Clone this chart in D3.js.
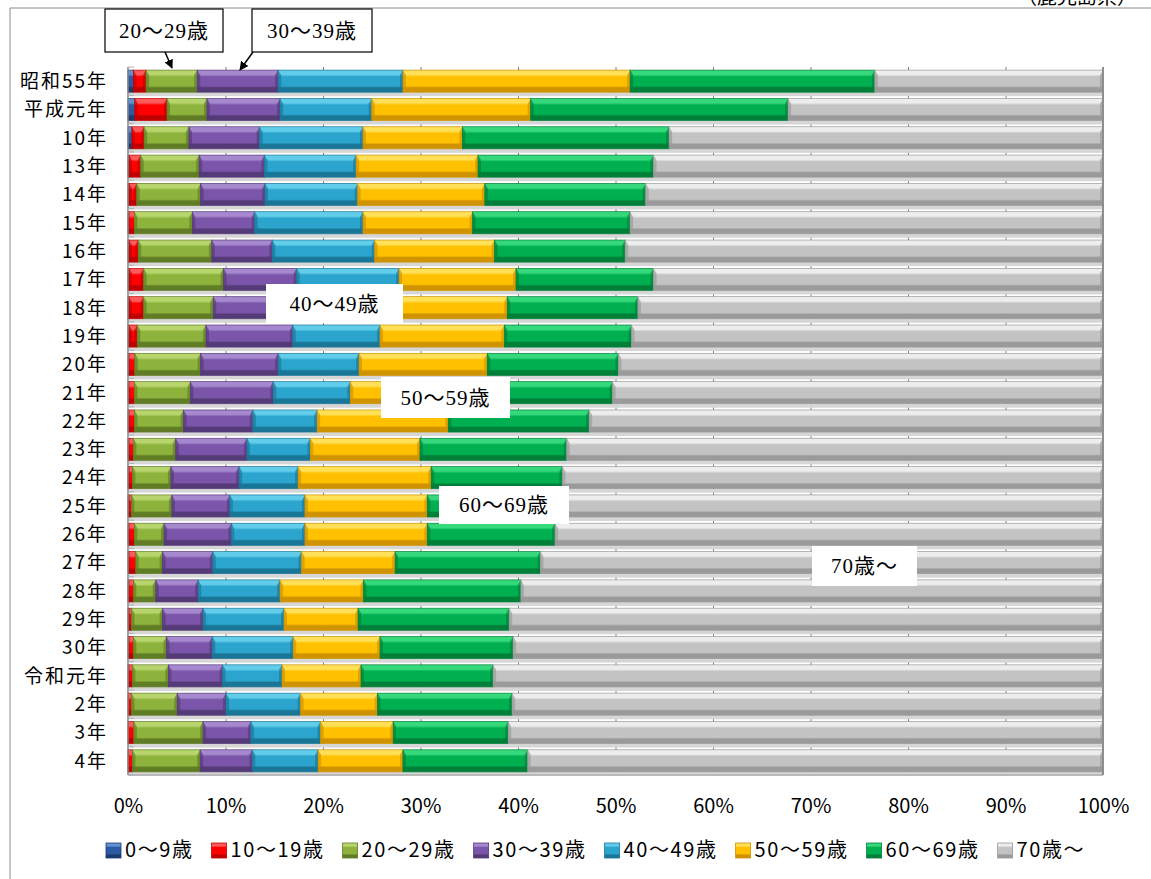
<!DOCTYPE html>
<html>
<head>
<meta charset="utf-8">
<script src="https://cdn.jsdelivr.net/npm/d3@7"></script>
<style>
body { margin: 0; background: #fff; }
svg { display: block; }
</style>
</head>
<body>
<svg width="1151" height="879"></svg>
<script>
const years = ['昭和55年', '平成元年', '10年', '13年', '14年', '15年', '16年', '17年', '18年', '19年',
  '20年', '21年', '22年', '23年', '24年', '25年', '26年', '27年', '28年', '29年', '30年',
  '令和元年', '2年', '3年', '4年'];
const ages = ['0〜9歳', '10〜19歳', '20〜29歳', '30〜39歳', '40〜49歳', '50〜59歳', '60〜69歳', '70歳〜'];

// percent of each age group, per year
const age0 = [0.55, 0.7, 0.4, 0.1, 0.1, 0.1, 0.1, 0.1, 0.1, 0.1, 0.1, 0.1, 0.1, 0.1, 0.1, 0.1, 0.1, 0.1, 0.1, 0.1, 0.1, 0.1, 0.05, 0.05, 0.05];
const age10 = [1.3, 3.3, 1.25, 1.2, 0.8, 0.55, 0.95, 1.5, 1.5, 0.85, 0.6, 0.55, 0.55, 0.45, 0.35, 0.25, 0.55, 0.7, 0.45, 0.25, 0.45, 0.35, 0.3, 0.55, 0.4];
const age20 = [5.25, 4.1, 4.6, 6.0, 6.55, 5.95, 7.55, 8.2, 7.15, 7.05, 6.75, 5.75, 5.05, 4.35, 3.95, 4.15, 3.05, 2.75, 2.3, 3.2, 3.4, 3.7, 4.7, 7.1, 6.95];
const age30 = [8.3, 7.5, 7.25, 6.7, 6.6, 6.4, 6.2, 7.5, 7.25, 8.9, 7.95, 8.5, 7.1, 7.3, 7.0, 5.95, 6.9, 5.15, 4.35, 4.15, 4.7, 5.55, 5.0, 4.9, 5.35];
const age40 = [12.8, 9.4, 10.6, 9.4, 9.5, 11.1, 10.5, 10.5, 10.8, 8.95, 8.3, 7.9, 6.6, 6.5, 6.05, 7.7, 7.55, 9.1, 8.4, 8.3, 8.3, 6.1, 7.65, 7.15, 6.75];
const age50 = [23.3, 16.3, 10.2, 12.5, 13.05, 11.25, 12.3, 12.0, 12.1, 12.75, 13.15, 12.2, 13.45, 11.25, 13.65, 12.55, 12.55, 9.6, 8.55, 7.6, 8.9, 8.1, 7.9, 7.45, 8.7];
const age60 = [25.1, 26.4, 21.2, 18.0, 16.5, 16.15, 13.4, 14.1, 13.4, 13.05, 13.45, 14.7, 14.45, 15.05, 13.45, 13.3, 13.1, 14.9, 16.15, 15.5, 13.65, 13.55, 13.8, 11.8, 12.8];
const age70 = [23.4, 32.3, 44.5, 46.1, 46.9, 48.5, 49.0, 46.1, 47.7, 48.35, 49.7, 50.3, 52.7, 55.0, 55.45, 56.0, 56.2, 57.7, 59.7, 60.9, 60.5, 62.55, 60.6, 61.0, 59.0];

const tickVals = [0, 0.1, 0.2, 0.3, 0.4, 0.5, 0.6, 0.7, 0.8, 0.9, 1];

const series = [age0, age10, age20, age30, age40, age50, age60, age70];
const colors = [
  { base: '#2d5ba3', light: '#6190d4', dark: '#1b3a6e' },
  { base: '#ff0000', light: '#ff5a5a', dark: '#bf0000' },
  { base: '#8db33c', light: '#b7d56c', dark: '#607d25' },
  { base: '#7b55a9', light: '#a688cf', dark: '#553a78' },
  { base: '#2ba5cd', light: '#62cdea', dark: '#1a7697' },
  { base: '#ffc000', light: '#ffe056', dark: '#cf9200' },
  { base: '#00b050', light: '#35d97c', dark: '#007f39' },
  { base: '#c3c3c3', light: '#ededed', dark: '#9a9a9a' }
];

const table = years.map((yr, i) => {
  const row = { year: yr };
  ages.forEach((a, k) => row[a] = series[k][i]);
  return row;
});
const stacked = d3.stack().keys(ages).offset(d3.stackOffsetExpand)(table);

const svg = d3.select('svg');
const width = +svg.attr('width');
const height = +svg.attr('height');

const plotTop = 67, plotBottom = 775, plotLeft = 128, plotRight = 1103;
const x = d3.scaleLinear().domain([0, 1]).range([plotLeft, plotRight]);
const y = d3.scaleBand().domain(years).range([plotTop, plotBottom]).paddingInner(0.22).paddingOuter(0.11);
const bw = y.bandwidth();

const defs = svg.append('defs');
colors.forEach((c, i) => {
  const g = defs.append('linearGradient').attr('id', 'g' + i)
    .attr('x1', 0).attr('y1', 0).attr('x2', 0).attr('y2', 1);
  [[0, c.light], [0.2, c.light], [0.3, c.base], [0.72, c.base], [0.8, c.dark], [1, c.dark]]
    .forEach(s => g.append('stop').attr('offset', s[0]).attr('stop-color', s[1]));
});
defs.append('marker').attr('id', 'arrow')
  .attr('viewBox', '0 0 10 10').attr('refX', 9).attr('refY', 5)
  .attr('markerWidth', 9).attr('markerHeight', 9).attr('markerUnits', 'userSpaceOnUse')
  .attr('orient', 'auto')
  .append('path').attr('d', 'M0,0 L10,5 L0,10 z').attr('fill', '#000');

// frame
svg.append('path')
  .attr('d', `M10,${height} V8 H${width}`)
  .attr('fill', 'none').attr('stroke', '#8c8c8c').attr('stroke-width', 1);

svg.append('text')
  .attr('x', 1137).attr('y', 4)
  .attr('text-anchor', 'end')
  .style('font-family', '"Noto Sans CJK JP", sans-serif')
  .style('font-size', '20px')
  .text('（鹿児島県）');

// gridlines
const grid = svg.append('g')
  .attr('transform', `translate(0,${plotBottom})`)
  .call(d3.axisBottom(x).tickValues(tickVals.slice(1, -1)).tickSize(-(plotBottom - plotTop)).tickFormat(''));
grid.select('.domain').remove();
grid.selectAll('line').attr('stroke', '#7f7f7f');

// shadow under each bar
svg.append('g').selectAll('rect')
  .data(years)
  .join('rect')
  .attr('x', plotLeft)
  .attr('y', d => y(d) + bw)
  .attr('width', plotRight - plotLeft)
  .attr('height', 4)
  .attr('fill', '#d6d6d6');

// bars
const layer = svg.append('g').selectAll('g')
  .data(stacked)
  .join('g')
  .attr('fill', (d, i) => `url(#g${i})`);

layer.selectAll('rect')
  .data((d, i) => d.map(v => ({ v: v, i: i })))
  .join('rect')
  .attr('x', d => x(d.v[0]))
  .attr('y', d => y(d.v.data.year))
  .attr('width', d => x(d.v[1]) - x(d.v[0]))
  .attr('height', bw)
  .attr('stroke', d => colors[d.i].dark)
  .attr('stroke-width', 0.7);

// side bevels
layer.selectAll('path')
  .data((d, i) => d.map(v => ({ v: v, i: i })).filter(d => x(d.v[1]) - x(d.v[0]) > 7))
  .join('path')
  .attr('d', d => {
    const x0 = x(d.v[0]), x1 = x(d.v[1]), y0 = y(d.v.data.year), e = 3;
    return `M${x0},${y0} L${x0 + e},${y0 + 5} L${x0 + e},${y0 + bw - 5} L${x0},${y0 + bw} Z` +
      `M${x1},${y0} L${x1 - e},${y0 + 5} L${x1 - e},${y0 + bw - 5} L${x1},${y0 + bw} Z`;
  })
  .attr('fill', d => colors[d.i].dark)
  .attr('fill-opacity', 0.65);

// axes lines
svg.append('line').attr('x1', plotLeft).attr('x2', plotLeft).attr('y1', plotTop).attr('y2', plotBottom)
  .attr('stroke', '#868686').attr('stroke-width', 1.5);
svg.append('line').attr('x1', plotLeft).attr('x2', plotRight).attr('y1', plotBottom).attr('y2', plotBottom)
  .attr('stroke', '#9a9a9a');
svg.append('line').attr('x1', plotRight).attr('x2', plotRight).attr('y1', plotTop).attr('y2', plotBottom)
  .attr('stroke', '#8e8e8e').attr('stroke-width', 2);

svg.append('g').selectAll('line')
  .data(d3.range(years.length + 1))
  .join('line')
  .attr('x1', plotLeft).attr('x2', plotLeft + 6)
  .attr('y1', k => plotTop + y.step() * k)
  .attr('y2', k => plotTop + y.step() * k)
  .attr('stroke', '#b0b0b0');

// category labels
svg.append('g').selectAll('text')
  .data(years)
  .join('text')
  .attr('x', 108)
  .attr('y', d => y(d) + bw / 2)
  .attr('dy', '0.36em')
  .attr('text-anchor', 'end')
  .style('font-family', '"Noto Sans CJK JP", sans-serif')
  .style('font-size', '19px')
  .style('letter-spacing', '2px')
  .text(d => d);

// x axis labels
const xa = svg.append('g')
  .attr('transform', `translate(0,${plotBottom})`)
  .call(d3.axisBottom(x).tickValues(tickVals).tickFormat(d3.format('.0%')).tickSize(0));
xa.select('.domain').remove();
xa.selectAll('text')
  .attr('y', 31).attr('dy', '0.36em')
  .attr('fill', '#000')
  .style('font-family', '"Noto Sans CJK JP", sans-serif')
  .style('font-size', '20px');

// legend
const legend = svg.append('g');
let lx = 106;
ages.forEach((a, i) => {
  legend.append('rect')
    .attr('x', lx).attr('y', 843).attr('width', 15).attr('height', 15)
    .attr('fill', `url(#g${i})`).attr('stroke', colors[i].dark).attr('stroke-width', 0.8);
  const t = legend.append('text')
    .attr('x', lx + 19).attr('y', 850).attr('dy', '0.36em')
    .style('font-family', '"Noto Sans CJK JP", sans-serif')
    .style('font-size', '20px')
    .style('letter-spacing', '1.6px')
    .text(a);
  lx += 19 + t.node().getComputedTextLength() + 18;
});

// annotations
const notes = [
  { text: '20〜29歳', x: 105, y: 9, w: 118, h: 43, border: true, arrow: [165, 52, 172, 68] },
  { text: '30〜39歳', x: 252, y: 9, w: 120, h: 43, border: true, arrow: [253, 52, 240, 70] },
  { text: '40〜49歳', x: 266, y: 284, w: 137, h: 39 },
  { text: '50〜59歳', x: 381, y: 377, w: 129, h: 41 },
  { text: '60〜69歳', x: 439, y: 486, w: 130, h: 38 },
  { text: '70歳〜', x: 812, y: 546, w: 105, h: 40 }
];
const ng = svg.append('g');
notes.forEach(n => {
  ng.append('rect')
    .attr('x', n.x).attr('y', n.y).attr('width', n.w).attr('height', n.h)
    .attr('fill', '#fff')
    .attr('stroke', n.border ? '#000' : 'none').attr('stroke-width', 1.2);
  ng.append('text')
    .attr('x', n.x + n.w / 2).attr('y', n.y + n.h / 2).attr('dy', '0.35em')
    .attr('text-anchor', 'middle')
    .style('font-family', '"Liberation Serif", "Noto Sans CJK JP", serif')
    .style('font-size', '21px')
    .style('letter-spacing', '1px')
    .text(n.text);
  if (n.arrow) {
    ng.append('line')
      .attr('x1', n.arrow[0]).attr('y1', n.arrow[1]).attr('x2', n.arrow[2]).attr('y2', n.arrow[3])
      .attr('stroke', '#000').attr('stroke-width', 1.5)
      .attr('marker-end', 'url(#arrow)');
  }
});
</script>
</body>
</html>
